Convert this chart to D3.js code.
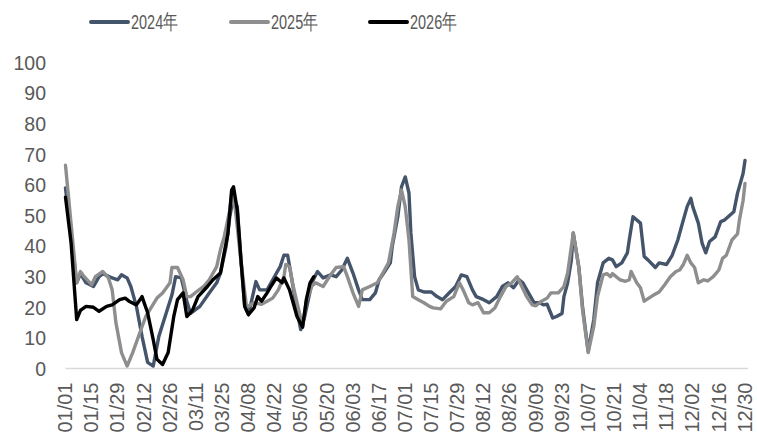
<!DOCTYPE html>
<html>
<head>
<meta charset="utf-8">
<script src="https://cdn.jsdelivr.net/npm/d3@7/dist/d3.min.js"></script>
<style>
  html, body { margin: 0; padding: 0; background: #fff; }
  svg { display: block; }
</style>
</head>
<body>
<svg id="chart" width="757" height="434"></svg>
<script>
// ---- data (x = day index from 01/01, y = value) ----
const seriesNames = ["2024年", "2025年", "2026年"];

const days2024 = [0,6,8,11,15,18,20,25,28,30,33,35,38,41,44,47,50,54,57,59,62,65,67,72,77,81,83,86,88,90,92,94,96,98,102,104,108,111,115,117,119,121,124,126,128,132,135,138,142,145,148,151,154,157,159,163,166,168,171,174,175,178,180,182,184,185,187,189,192,196,199,202,206,209,212,215,218,220,224,227,231,234,237,240,243,245,248,251,254,256,258,261,263,266,267,269,271,272,275,277,280,283,285,288,291,293,295,298,301,302,304,308,310,312,316,318,322,325,328,330,333,335,336,339,341,343,345,348,351,353,355,358,360,363,364];
const values2024 = [59,28,31,28,26.8,30,31,29.6,29,30.6,29.6,26.8,20.3,10.5,2,0.8,10.5,18.2,24,30,29.6,22,18,20.3,24.7,28,31.2,39.8,49.6,56,52.9,35.5,20.3,17.6,28.4,25.7,25.7,29,33.3,37,37,30,19,12.7,16.6,28,31.7,29.6,30.6,30,32.2,36,31.2,25.7,22.5,22.5,24.7,29,31.7,34.5,39.8,49.6,59.4,62.6,57.3,44.3,30,25.7,25,25,23.5,22.5,25,26.8,30.6,30,25.7,23.5,22.5,21.5,23.5,26.8,28,26.4,29,28,24.7,21.5,21.5,20.8,21,16.5,17,18,23.5,28,35.5,44.3,33,20,5.6,16,28,34.5,36,35.5,33.3,34.5,37.8,42,49.6,47.5,36.6,35.5,33,34.5,34,37,42,46.4,52.9,55.6,52.9,47.5,41,37.8,41.5,43,48,48.5,49.6,51.2,57.3,63.8,68];

const days2025 = [0,6,8,10,14,16,20,23,25,27,30,33,36,40,43,49,52,56,57,60,63,65,67,70,74,77,81,83,85,88,89,91,94,97,101,105,108,111,114,117,118,120,122,125,127,129,132,134,138,142,145,149,151,154,157,159,163,167,170,173,176,178,180,182,184,186,189,192,195,197,201,204,208,211,213,216,218,221,224,227,230,233,236,239,242,244,247,250,252,255,258,260,264,267,269,272,275,277,280,283,285,288,290,292,293,297,300,302,303,306,308,310,315,318,321,324,327,329,331,333,335,337,339,342,344,347,350,352,354,357,360,361,363,364];
const values2025 = [66.4,28,31.7,30,27.4,30,31.7,29.6,25.7,15,5.2,0.8,5.2,12,17,23,24.7,28,33,33,29,23.5,23.5,25,26.8,29,33.3,38.8,43,51.8,57,52,35,20,21.5,21,22,23,25.7,30,34,33.3,26.8,19,13.8,22,27,28,26.8,30.6,33,33.3,30,24.7,20.3,25.7,26.8,28,31.2,34.5,44.3,52.9,58.3,52.9,42,23.5,22.5,21.5,20.3,19.8,19.5,22,23.5,28,25.7,21.5,20.8,21.5,18.2,18.2,19.8,23.5,26.8,28,30,27.4,23.5,20.8,20.5,22,23,24.7,24.7,26.8,31.2,44.3,33,19,5.2,13.8,23.5,30.6,31,30,31,29,28.5,29,31.7,28,26.4,22,24,25,27.4,30,31.7,32.2,34,37,34.5,33,28,29,28.6,30,32.2,36,37,42,44,48.5,55,60.5];

const days2026 = [0,3,6,8,11,15,18,22,25,29,32,34,38,41,44,47,49,52,55,58,60,63,65,68,71,76,79,83,85,87,89,90,92,94,96,98,101,103,105,108,110,113,116,117,120,124,127,129,131,133];
const values2026 = [56,41,16,19,20.3,20,18.7,20.3,20.8,22.5,23,22,20.8,23.5,18.2,9.4,3,1.3,5.2,17,22.5,24.7,17,19,23.5,26.8,29,31.2,37.8,44,58.3,59.4,51.8,35.5,20.3,17.6,19.8,23.5,22,24.7,26.8,29.6,28,29.6,25.7,17,13.5,22.5,28,30];

const tickDays = d3.range(0, 365, 14);
const tickLabels = ["01/01","01/15","01/29","02/12","02/26","03/11","03/25","04/08","04/22","05/06","05/20","06/03","06/17","07/01","07/15","07/29","08/12","08/26","09/09","09/23","10/07","10/21","11/04","11/18","12/02","12/16","12/30"];
const yTicks = [0,10,20,30,40,50,60,70,80,90,100];

// ---- chart ----
const svg = d3.select("#chart");
const colors = ["#44546A", "#8E8E8E", "#000000"];
const font = "'Liberation Sans', Arial, sans-serif";

const x = d3.scaleLinear().domain([0, 364]).range([65.5, 745]);
const y = d3.scaleLinear().domain([0, 100]).range([368.5, 62.5]);

// y-axis labels
const yAxis = d3.axisLeft(y).tickValues(yTicks).tickSize(0).tickPadding(0).tickFormat(d3.format("d"));
const yg = svg.append("g").attr("transform", "translate(46,0)").call(yAxis);
yg.select(".domain").remove();
yg.selectAll("text").attr("font-family", font).attr("font-size", 19.5).attr("fill", "#595959").attr("dy", "0.35em");

// x-axis
const xAxis = d3.axisBottom(x).tickValues(tickDays).tickSize(0).tickFormat((d, i) => tickLabels[i]);
const xg = svg.append("g").attr("transform", `translate(0,${y(0)})`).call(xAxis);
xg.select(".domain").attr("d", `M${x(0)},0H748`).attr("stroke", "#D9D9D9").attr("stroke-width", 1.5);
xg.selectAll("text")
  .attr("font-family", font).attr("font-size", 20).attr("fill", "#595959")
  .attr("text-anchor", "end")
  .attr("transform", "translate(-1,14) rotate(-90)")
  .attr("x", 0).attr("y", 0).attr("dy", "0.36em");

// lines
const series = [
  { days: days2024, values: values2024 },
  { days: days2025, values: values2025 },
  { days: days2026, values: values2026 }
];
const line = d3.line().x(p => x(p[0])).y(p => y(p[1]));
series.forEach((s, i) => {
  const pts = s.days.map((d, j) => [d, s.values[j]]);
  svg.append("path").datum(pts)
    .attr("d", line)
    .attr("fill", "none")
    .attr("stroke", colors[i])
    .attr("stroke-width", 3.4)
    .attr("stroke-linejoin", "round")
    .attr("stroke-linecap", "round");
});

// legend
const legendX = [91, 231, 370];
const lg = svg.append("g");
seriesNames.forEach((name, i) => {
  lg.append("line")
    .attr("x1", legendX[i]).attr("x2", legendX[i] + 37)
    .attr("y1", 22).attr("y2", 22)
    .attr("stroke", colors[i]).attr("stroke-width", 4).attr("stroke-linecap", "round");
  lg.append("text")
    .attr("x", legendX[i] + 40).attr("y", 28.5)
    .attr("font-family", font).attr("font-size", 20.5).attr("fill", "#595959")
    .attr("textLength", 47).attr("lengthAdjust", "spacingAndGlyphs")
    .text(name);
});
</script>
</body>
</html>
